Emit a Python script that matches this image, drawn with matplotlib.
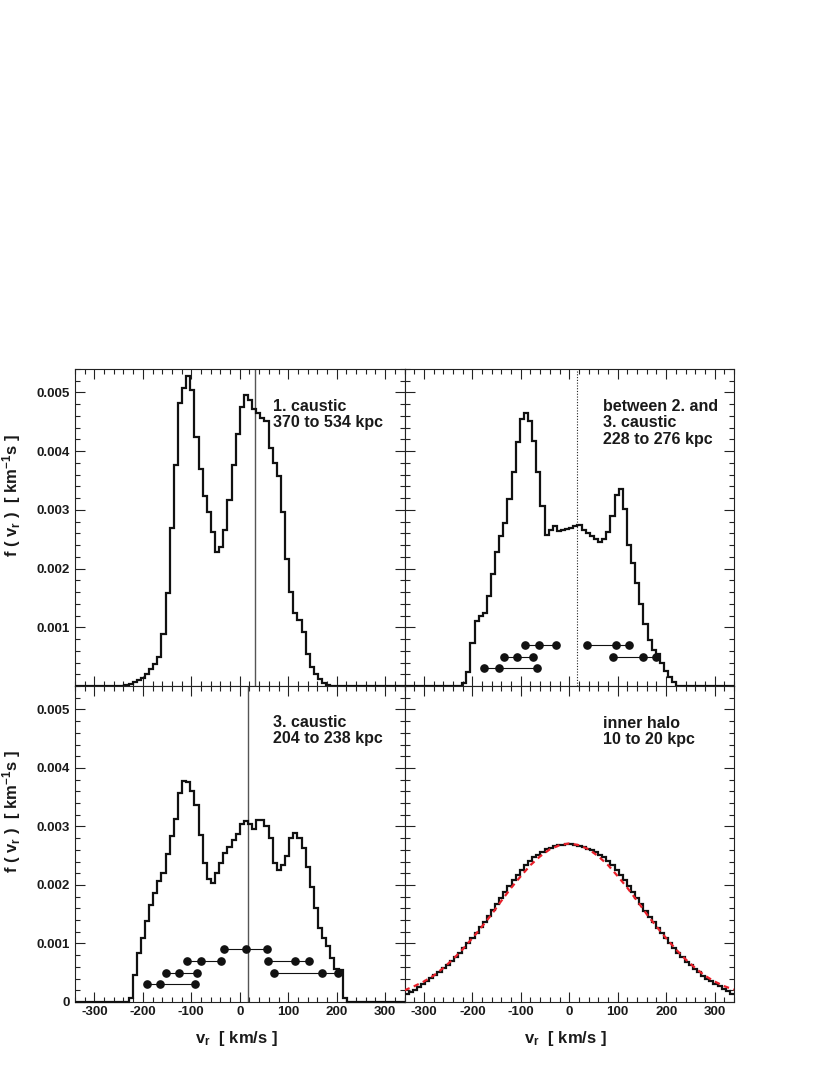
import numpy as np
import matplotlib
matplotlib.use("Agg")
import matplotlib.pyplot as plt
from matplotlib.ticker import MultipleLocator, FuncFormatter

plt.rcParams['font.family'] = ['Liberation Sans', 'DejaVu Sans']
plt.rcParams['mathtext.default'] = 'regular'
plt.rcParams['axes.unicode_minus'] = False

# ---------------- data (f in units of 1e-3 km^-1 s) ----------------
BIN_LO, BIN_HI, N_BINS = -340.0, 340.0, 80

caustic1 = [0]*12 + [0.01, 0.04, 0.07, 0.10, 0.14, 0.21, 0.29, 0.38, 0.50, 0.89,
           1.58, 2.70, 3.77, 4.82, 5.08, 5.28, 5.05, 4.25, 3.69, 3.24,
           2.97, 2.62, 2.29, 2.37, 2.66, 3.17, 3.77, 4.30, 4.75, 4.95,
           4.88, 4.72, 4.65, 4.57, 4.51, 4.05, 3.80, 3.57, 2.97, 2.17,
           1.60, 1.24, 1.13, 0.92, 0.55, 0.32, 0.21, 0.12, 0.05, 0.02] + [0]*18

between23 = [0]*14 + [0.05, 0.24, 0.73, 1.10, 1.20, 1.25, 1.53, 1.90, 2.28, 2.55,
            2.78, 3.19, 3.65, 4.15, 4.55, 4.65, 4.52, 4.18, 3.64, 3.07,
            2.58, 2.65, 2.73, 2.64, 2.65, 2.68, 2.69, 2.72, 2.74, 2.65,
            2.61, 2.55, 2.51, 2.46, 2.50, 2.62, 2.90, 3.25, 3.35, 3.01,
            2.41, 2.10, 1.75, 1.40, 1.05, 0.78, 0.62, 0.54, 0.40, 0.26,
            0.16, 0.07] + [0]*14

caustic3 = [0]*13 + [0.06, 0.46, 0.83, 1.10, 1.38, 1.65, 1.87, 2.06, 2.20, 2.53,
           2.84, 3.12, 3.58, 3.78, 3.76, 3.60, 3.37, 2.85, 2.38, 2.10,
           2.04, 2.21, 2.38, 2.55, 2.65, 2.76, 2.87, 3.05, 3.09, 3.04,
           2.96, 3.11, 3.11, 3.01, 2.80, 2.38, 2.25, 2.34, 2.49, 2.80,
           2.89, 2.80, 2.63, 2.31, 1.97, 1.60, 1.26, 1.10, 0.95, 0.76,
           0.57, 0.54, 0.06] + [0]*14

inner_halo = [0.13, 0.17, 0.21, 0.26, 0.31, 0.36, 0.41, 0.46, 0.52, 0.58,
              0.64, 0.70, 0.77, 0.84, 0.92, 1.00, 1.09, 1.18, 1.28, 1.37,
              1.47, 1.57, 1.67, 1.78, 1.88, 1.98, 2.08, 2.17, 2.26, 2.34,
              2.41, 2.47, 2.52, 2.57, 2.61, 2.64, 2.66, 2.68, 2.69, 2.70,
              2.70, 2.69, 2.67, 2.65, 2.62, 2.59, 2.56, 2.52, 2.47, 2.41,
              2.34, 2.26, 2.17, 2.08, 1.98, 1.88, 1.78, 1.67, 1.56, 1.46,
              1.37, 1.27, 1.18, 1.09, 1.00, 0.92, 0.84, 0.77, 0.69, 0.63,
              0.57, 0.51, 0.45, 0.40, 0.36, 0.31, 0.27, 0.22, 0.18, 0.14]

fit_v = [-340, -320, -300, -280, -260, -240, -220, -200, -180, -160, -140, -120,
         -100, -80, -60, -40, -20, 0, 20, 40, 60, 80, 100, 120, 140, 160, 180,
         200, 220, 240, 260, 280, 300, 320, 340]
fit_f = [0.20, 0.27, 0.35, 0.45, 0.58, 0.73, 0.90, 1.09, 1.29, 1.50, 1.73, 1.95,
         2.15, 2.34, 2.49, 2.61, 2.68, 2.71, 2.68, 2.61, 2.49, 2.34, 2.15, 1.95,
         1.73, 1.50, 1.29, 1.09, 0.90, 0.73, 0.58, 0.45, 0.35, 0.27, 0.21]

# stream dot rows: (level, [v values])
dots2 = [(0.7, [-91, -61.5, -27]), (0.7, [36.6, 97, 123]),
         (0.5, [-134, -108, -75]), (0.5, [90, 152, 180]),
         (0.3, [-175, -144, -67])]
dots3 = [(0.9, [-32.4, 12.4, 55.9]),
         (0.7, [-108, -80.7, -39.3]), (0.7, [58.7, 113.9, 143.5]),
         (0.5, [-151.8, -125.6, -87.7]), (0.5, [69.7, 169.8, 203.6]),
         (0.3, [-191, -165, -93])]

vline1 = 31
vline2 = 15
vline3 = 16

labels = ["1. caustic\n370 to 534 kpc",
          "between 2. and\n3. caustic\n228 to 276 kpc",
          "3. caustic\n204 to 238 kpc",
          "inner halo\n10 to 20 kpc"]

# ---------------- figure ----------------
W, H = 830, 1075
fig = plt.figure(figsize=(W/100, H/100), dpi=100)
fig.patch.set_facecolor('white')

def ax_at(x0, y0, x1, y1):
    return fig.add_axes([x0/W, 1 - y1/H, (x1-x0)/W, (y1-y0)/H])

xl, xm, xr = 75, 404.5, 734
yt, ym, yb = 369, 686, 1002
ax1 = ax_at(xl, yt, xm, ym)
ax2 = ax_at(xm, yt, xr, ym)
ax3 = ax_at(xl, ym, xm, yb)
ax4 = ax_at(xm, ym, xr, yb)

edges = np.linspace(BIN_LO, BIN_HI, N_BINS + 1)
TXT = '#1a1a1a'

def yfmt(v, pos):
    if abs(v) < 1e-9:
        return '0'
    return f'{v:.3f}'

for ax in (ax1, ax2, ax3, ax4):
    ax.set_xlim(-340, 340)
    ax.set_ylim(0, 0.0054)
    ax.xaxis.set_major_locator(MultipleLocator(100))
    ax.xaxis.set_minor_locator(MultipleLocator(20))
    ax.yaxis.set_major_locator(MultipleLocator(0.001))
    ax.yaxis.set_minor_locator(MultipleLocator(0.0002))
    ax.yaxis.set_major_formatter(FuncFormatter(yfmt))
    ax.tick_params(which='both', direction='in', top=True, right=True,
                   width=0.8, color='#222222')
    ax.tick_params(which='major', length=7.2)
    ax.tick_params(which='minor', length=3.6)
    ax.tick_params(axis='x', which='major', pad=3, labelsize=9.6)
    ax.tick_params(axis='y', which='major', pad=3.5, labelsize=9.6)
    for s in ax.spines.values():
        s.set_linewidth(0.8)
        s.set_color('#222222')

ax1.tick_params(labelbottom=False)
ax2.tick_params(labelbottom=False, labelleft=False)
ax4.tick_params(labelleft=False)
ax1.yaxis.set_major_formatter(FuncFormatter(lambda v, p: '' if abs(v) < 1e-9 else f'{v:.3f}'))
for ax in (ax1, ax2, ax3, ax4):
    for lab in ax.get_xticklabels() + ax.get_yticklabels():
        lab.set_fontweight('bold')
        lab.set_color(TXT)

hist_kw = dict(color='#111111', lw=1.6, baseline=None, clip_on=False, zorder=3)
ax1.stairs(np.array(caustic1)*1e-3, edges, **hist_kw)
ax2.stairs(np.array(between23)*1e-3, edges, **hist_kw)
ax3.stairs(np.array(caustic3)*1e-3, edges, **hist_kw)
ax4.stairs(np.array(inner_halo)*1e-3, edges, **hist_kw)

ax4.plot(fit_v, np.array(fit_f)*1e-3, color='#e8202a', lw=1.6,
         ls=(0, (2.5, 2)), zorder=4)

ax1.axvline(vline1, color='#555555', lw=1.0, zorder=2)
ax2.axvline(vline2, color='#222222', lw=0.8, ls=(0, (1, 1.5)), zorder=2)
ax3.axvline(vline3, color='#555555', lw=1.0, zorder=2)

for ax, rows in ((ax2, dots2), (ax3, dots3)):
    for lvl, xs in rows:
        ax.plot(xs, [lvl*1e-3]*len(xs), '-o', color='#111111', lw=0.8,
                ms=5.2, zorder=5)

txt_kw = dict(ha='left', va='top', fontsize=11.5, fontweight='bold',
              color=TXT, linespacing=1.1)
ax1.text(0.601, 0.905, labels[0], transform=ax1.transAxes, **txt_kw)
ax2.text(0.602, 0.905, labels[1], transform=ax2.transAxes, **txt_kw)
ax3.text(0.601, 0.908, labels[2], transform=ax3.transAxes, **txt_kw)
ax4.text(0.602, 0.905, labels[3], transform=ax4.transAxes, **txt_kw)

ylab = 'f ( v$_r$ )  [ km$^{-1}$s ]'
for ax in (ax1, ax3):
    ax.set_ylabel(ylab, fontsize=12, fontweight='bold', color=TXT, ha='right')
    ax.yaxis.set_label_coords(-0.158, 0.795)

xlab = 'v$_r$  [ km/s ]'
for ax in (ax3, ax4):
    ax.set_xlabel(xlab, fontsize=12, fontweight='bold', color=TXT)
    ax.xaxis.set_label_coords(0.49, -0.085)

fig.savefig('out.png', dpi=100, facecolor='white')
